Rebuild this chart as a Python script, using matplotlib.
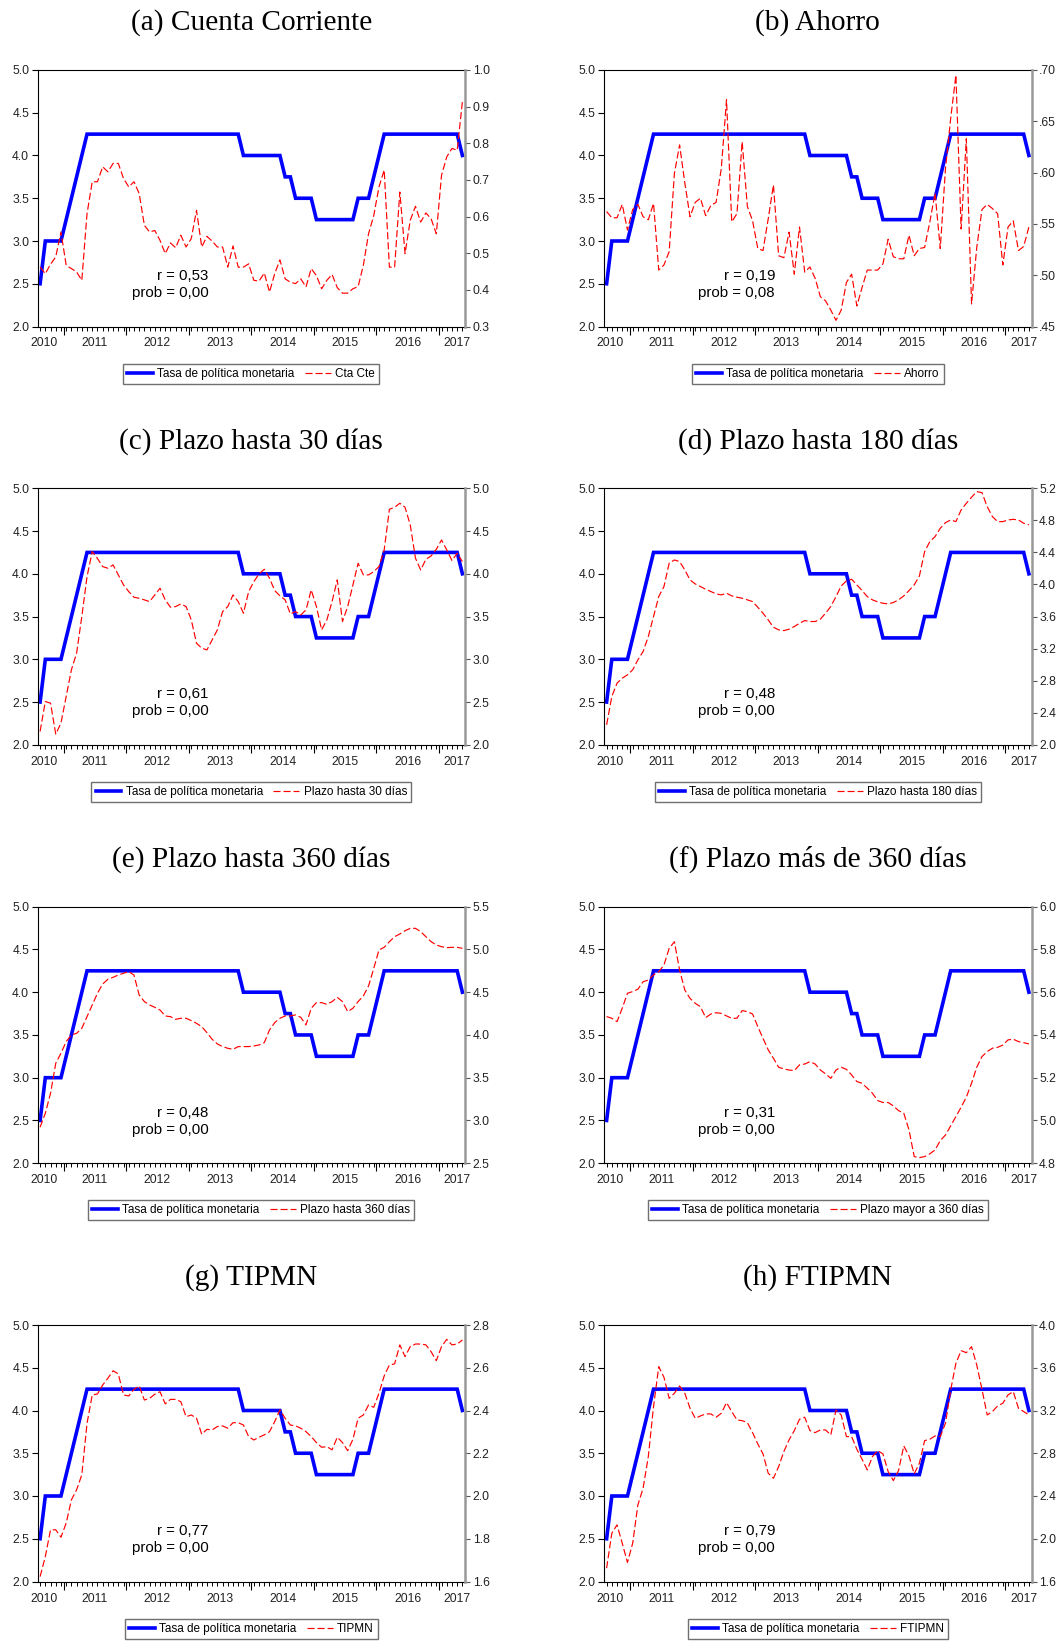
import numpy as np
import matplotlib
matplotlib.use('Agg')
from matplotlib import pyplot as plt
from matplotlib import transforms
from matplotlib.lines import Line2D

# monthly data, Aug 2010 - May 2017
years = ['2010', '2011', '2012', '2013', '2014', '2015', '2016', '2017']
year_label_pos = [0.7, 10.5, 22.5, 34.5, 46.5, 58.5, 70.5, 80.0]
year_bounds = [4.5, 16.5, 28.5, 40.5, 52.5, 64.5, 76.5]

tpm = [2.5, 3.0, 3.0, 3.0, 3.0, 3.25, 3.5, 3.75, 4.0, 4.25,
       4.25, 4.25, 4.25, 4.25, 4.25, 4.25, 4.25, 4.25, 4.25, 4.25,
       4.25, 4.25, 4.25, 4.25, 4.25, 4.25, 4.25, 4.25, 4.25, 4.25,
       4.25, 4.25, 4.25, 4.25, 4.25, 4.25, 4.25, 4.25, 4.25, 4.0,
       4.0, 4.0, 4.0, 4.0, 4.0, 4.0, 4.0, 3.75, 3.75, 3.5,
       3.5, 3.5, 3.5, 3.25, 3.25, 3.25, 3.25, 3.25, 3.25, 3.25,
       3.25, 3.5, 3.5, 3.5, 3.75, 4.0, 4.25, 4.25, 4.25, 4.25,
       4.25, 4.25, 4.25, 4.25, 4.25, 4.25, 4.25, 4.25, 4.25, 4.25,
       4.25, 4.0]

cta_cte = [0.462, 0.444, 0.47, 0.49, 0.558, 0.467, 0.458, 0.449, 0.426, 0.608,
           0.695, 0.695, 0.736, 0.722, 0.745, 0.745, 0.704, 0.681, 0.695, 0.663,
           0.576, 0.558, 0.562, 0.535, 0.499, 0.528, 0.515, 0.549, 0.517, 0.540,
           0.617, 0.517, 0.546, 0.533, 0.517, 0.517, 0.462, 0.520, 0.462, 0.462,
           0.471, 0.426, 0.424, 0.446, 0.394, 0.444, 0.482, 0.430, 0.421, 0.417,
           0.430, 0.408, 0.458, 0.439, 0.403, 0.426, 0.442, 0.406, 0.391, 0.391,
           0.403, 0.409, 0.467, 0.553, 0.603, 0.681, 0.727, 0.462, 0.462, 0.667,
           0.499, 0.590, 0.628, 0.585, 0.610, 0.594, 0.553, 0.713, 0.763, 0.786,
           0.781, 0.913]

ahorro = [0.562, 0.556, 0.556, 0.569, 0.544, 0.564, 0.569, 0.557, 0.554, 0.570,
          0.505, 0.510, 0.523, 0.599, 0.627, 0.590, 0.557, 0.571, 0.575, 0.558,
          0.568, 0.571, 0.604, 0.671, 0.552, 0.560, 0.630, 0.567, 0.553, 0.526,
          0.524, 0.555, 0.588, 0.519, 0.517, 0.542, 0.501, 0.547, 0.503, 0.508,
          0.497, 0.479, 0.475, 0.466, 0.456, 0.466, 0.493, 0.501, 0.470, 0.488,
          0.505, 0.505, 0.505, 0.511, 0.535, 0.518, 0.516, 0.516, 0.539, 0.519,
          0.526, 0.527, 0.552, 0.580, 0.526, 0.604, 0.653, 0.695, 0.545, 0.633,
          0.472, 0.527, 0.564, 0.569, 0.565, 0.560, 0.510, 0.547, 0.553, 0.524,
          0.528, 0.547]

plazo30 = [2.156, 2.506, 2.487, 2.125, 2.253, 2.565, 2.877, 3.071, 3.5, 3.967,
           4.26, 4.18, 4.084, 4.065, 4.104, 3.987, 3.870, 3.792, 3.726, 3.714,
           3.695, 3.675, 3.753, 3.831, 3.695, 3.609, 3.617, 3.648, 3.617, 3.461,
           3.188, 3.13, 3.11, 3.227, 3.344, 3.558, 3.617, 3.753, 3.675, 3.539,
           3.792, 3.909, 3.999, 4.053, 3.948, 3.804, 3.742, 3.695, 3.531, 3.558,
           3.519, 3.578, 3.812, 3.617, 3.344, 3.461, 3.675, 3.929, 3.442, 3.617,
           3.870, 4.123, 3.987, 3.987, 4.026, 4.084, 4.279, 4.755, 4.778, 4.825,
           4.778, 4.571, 4.182, 4.045, 4.170, 4.209, 4.287, 4.396, 4.279, 4.155,
           4.240, 4.143]

plazo180 = [2.249, 2.603, 2.769, 2.831, 2.873, 2.935, 3.06, 3.164, 3.351, 3.6,
            3.849, 3.974, 4.265, 4.306, 4.286, 4.182, 4.057, 4.007, 3.974, 3.941,
            3.912, 3.883, 3.870, 3.891, 3.858, 3.841, 3.829, 3.808, 3.787, 3.716,
            3.642, 3.558, 3.467, 3.434, 3.425, 3.442, 3.475, 3.517, 3.550, 3.538,
            3.538, 3.567, 3.642, 3.725, 3.849, 3.982, 4.045, 4.065, 3.995, 3.924,
            3.849, 3.808, 3.783, 3.766, 3.758, 3.775, 3.808, 3.858, 3.924, 3.995,
            4.107, 4.410, 4.535, 4.597, 4.701, 4.772, 4.805, 4.784, 4.93, 5.013,
            5.088, 5.158, 5.146, 4.971, 4.847, 4.784, 4.784, 4.805, 4.813, 4.805,
            4.764, 4.743]

plazo360 = [2.921, 3.084, 3.318, 3.669, 3.786, 3.922, 4.0, 4.019, 4.078, 4.214,
            4.351, 4.487, 4.596, 4.651, 4.674, 4.701, 4.721, 4.740, 4.701, 4.468,
            4.390, 4.351, 4.323, 4.292, 4.222, 4.214, 4.183, 4.195, 4.195, 4.168,
            4.136, 4.097, 4.027, 3.949, 3.895, 3.864, 3.844, 3.832, 3.864, 3.864,
            3.864, 3.871, 3.883, 3.910, 4.058, 4.144, 4.195, 4.222, 4.222, 4.234,
            4.206, 4.117, 4.312, 4.378, 4.378, 4.358, 4.390, 4.440, 4.390, 4.273,
            4.312, 4.390, 4.456, 4.573, 4.779, 4.994, 5.025, 5.091, 5.149, 5.181,
            5.219, 5.247, 5.247, 5.208, 5.149, 5.091, 5.052, 5.032, 5.021, 5.025,
            5.025, 5.013]

plazo_mas360 = [5.486, 5.478, 5.462, 5.525, 5.595, 5.603, 5.614, 5.649, 5.657, 5.681,
                5.696, 5.727, 5.805, 5.836, 5.704, 5.610, 5.571, 5.548, 5.532, 5.481,
                5.498, 5.504, 5.501, 5.489, 5.478, 5.478, 5.514, 5.509, 5.498, 5.439,
                5.384, 5.330, 5.291, 5.249, 5.241, 5.236, 5.233, 5.260, 5.264, 5.275,
                5.264, 5.236, 5.218, 5.197, 5.236, 5.249, 5.239, 5.213, 5.182, 5.174,
                5.151, 5.127, 5.093, 5.084, 5.084, 5.068, 5.046, 5.034, 4.956, 4.831,
                4.826, 4.831, 4.844, 4.862, 4.906, 4.932, 4.975, 5.018, 5.062, 5.109,
                5.174, 5.249, 5.299, 5.322, 5.338, 5.342, 5.353, 5.377, 5.380, 5.369,
                5.364, 5.358]

tipmn = [1.623, 1.717, 1.842, 1.842, 1.807, 1.873, 1.982, 2.029, 2.099, 2.340,
         2.473, 2.477, 2.519, 2.551, 2.586, 2.571, 2.473, 2.468, 2.499, 2.515,
         2.449, 2.457, 2.476, 2.488, 2.431, 2.452, 2.452, 2.441, 2.371, 2.379,
         2.364, 2.289, 2.312, 2.309, 2.325, 2.328, 2.317, 2.343, 2.343, 2.332,
         2.278, 2.262, 2.275, 2.286, 2.301, 2.348, 2.403, 2.364, 2.332, 2.328,
         2.317, 2.301, 2.278, 2.250, 2.228, 2.231, 2.216, 2.275, 2.250, 2.212,
         2.265, 2.364, 2.379, 2.426, 2.415, 2.481, 2.562, 2.613, 2.618, 2.707,
         2.652, 2.699, 2.711, 2.711, 2.707, 2.675, 2.633, 2.699, 2.733, 2.707,
         2.711, 2.730]

ftipmn = [1.725, 2.052, 2.130, 1.958, 1.778, 1.958, 2.317, 2.473, 2.769, 3.236,
          3.610, 3.511, 3.314, 3.361, 3.430, 3.361, 3.221, 3.127, 3.149, 3.168,
          3.168, 3.137, 3.174, 3.274, 3.190, 3.112, 3.105, 3.087, 2.993, 2.887,
          2.794, 2.613, 2.566, 2.675, 2.816, 2.925, 3.012, 3.118, 3.137, 3.012,
          2.993, 3.018, 3.018, 2.971, 3.205, 3.158, 2.956, 2.956, 2.837, 2.744,
          2.644, 2.769, 2.825, 2.794, 2.629, 2.544, 2.638, 2.869, 2.775, 2.607,
          2.707, 2.918, 2.931, 2.962, 2.956, 3.081, 3.392, 3.642, 3.760, 3.741,
          3.797, 3.626, 3.398, 3.158, 3.190, 3.243, 3.268, 3.346, 3.377, 3.221,
          3.190, 3.158]

titles = ['(a) Cuenta Corriente', '(b) Ahorro', '(c) Plazo hasta 30 días',
          '(d) Plazo hasta 180 días', '(e) Plazo hasta 360 días',
          '(f) Plazo más de 360 días', '(g) TIPMN', '(h) FTIPMN']
series_names = ['Cta Cte', 'Ahorro', 'Plazo hasta 30 días', 'Plazo hasta 180 días',
                'Plazo hasta 360 días', 'Plazo mayor a 360 días', 'TIPMN', 'FTIPMN']
series = [cta_cte, ahorro, plazo30, plazo180, plazo360, plazo_mas360, tipmn, ftipmn]
r_vals = ['0,53', '0,19', '0,61', '0,48', '0,48', '0,31', '0,77', '0,79']
prob_vals = ['0,00', '0,08', '0,00', '0,00', '0,00', '0,00', '0,00', '0,00']
right_ticks = [(0.3, 1.0, 0.1), (0.45, 0.70, 0.05), (2.0, 5.0, 0.5), (2.0, 5.2, 0.4),
               (2.5, 5.5, 0.5), (4.8, 6.0, 0.2), (1.6, 2.8, 0.2), (1.6, 4.0, 0.4)]

W, H = 1062, 1641
SANS = 'Liberation Sans'
SERIF = 'Liberation Serif'
BLUE = '#0000ff'
RED = '#ff0000'
TICK_FS = 8.7


def fmt_right(v, k):
    s = '%.2f' % v if k == 1 else '%.1f' % v
    return s[1:] if k == 1 else s


def draw_panel(fig, k, left_px, top_px):
    w_px, h_px = 427.5, 256.5
    ax = fig.add_axes([left_px / W, 1 - (top_px + h_px) / H, w_px / W, h_px / H])
    ax2 = ax.twinx()

    x = np.arange(len(tpm))
    ax.plot(x, tpm, color=BLUE, lw=2.6, solid_joinstyle='miter')
    ax2.plot(x, series[k], color=RED, lw=0.85, linestyle=(0, (6, 2.5)))

    ax.set_xlim(-0.5, len(tpm) - 0.5)
    ax.set_ylim(2.0, 5.0)
    ax.set_yticks(np.arange(2.0, 5.01, 0.5))
    ax.set_yticklabels(['%.1f' % v for v in np.arange(2.0, 5.01, 0.5)])

    lo, hi, st = right_ticks[k]
    rt = np.arange(lo, hi + st / 2, st)
    ax2.set_ylim(lo, hi)
    ax2.set_yticks(rt)
    ax2.set_yticklabels([fmt_right(v, k) for v in rt])

    ax.set_xticks(year_bounds)
    ax.set_xticks(x, minor=True)
    ax.tick_params(axis='x', which='major', length=6, width=0.8, labelbottom=False)
    ax.tick_params(axis='x', which='minor', length=3.2, width=0.7)
    ax.tick_params(axis='y', length=4, width=0.8, pad=2,
                   labelsize=TICK_FS, labelcolor='#222222')
    ax2.tick_params(axis='y', length=3.5, width=0.8, pad=2, color='#555555',
                    labelsize=TICK_FS, labelcolor='#222222')
    for lab in ax.get_yticklabels() + ax2.get_yticklabels():
        lab.set_family(SANS)

    for s in ['left', 'top', 'bottom']:
        ax.spines[s].set_linewidth(0.8)
        ax2.spines[s].set_visible(False)
    ax.spines['right'].set_visible(False)
    ax2.spines['right'].set_color('#999999')
    ax2.spines['right'].set_linewidth(1.8)

    trans = transforms.blended_transform_factory(ax.transData, ax.transAxes)
    for pos, yr in zip(year_label_pos, years):
        ax.text(pos, -17 / h_px, yr, transform=trans, ha='center', va='center',
                fontsize=TICK_FS, family=SANS, color='#222222')

    ax.text(0.400, 0.197, 'r = ' + r_vals[k], transform=ax.transAxes,
            ha='right', va='center', fontsize=10.8, family=SANS)
    ax.text(0.400, 0.130, 'prob = ' + prob_vals[k], transform=ax.transAxes,
            ha='right', va='center', fontsize=10.8, family=SANS)

    handles = [Line2D([], [], color=BLUE, lw=2.6),
               Line2D([], [], color=RED, lw=0.85, linestyle=(0, (6, 2.5)))]
    leg = ax2.legend(handles, ['Tasa de política monetaria', series_names[k]],
                     loc='upper center', bbox_to_anchor=(0.5, -37 / h_px), ncol=2,
                     fancybox=False, framealpha=1, edgecolor='#707070',
                     prop={'family': SANS, 'size': 8.5}, handlelength=2.2,
                     handletextpad=0.35, columnspacing=0.9, borderpad=0.35,
                     borderaxespad=0)
    leg.get_frame().set_linewidth(1.0)

    fig.text((left_px + w_px / 2) / W, 1 - (top_px - 40) / H, titles[k],
             ha='center', va='baseline', fontsize=21.2, family=SERIF)


if __name__ == "__main__":
    fig = plt.figure(figsize=(W / 100, H / 100), dpi=100)
    lefts = [37.5, 604.0]
    tops = [70, 488.3, 906.7, 1325]
    for k in range(8):
        draw_panel(fig, k, lefts[k % 2], tops[k // 2])
    fig.savefig('out.png', dpi=100)
